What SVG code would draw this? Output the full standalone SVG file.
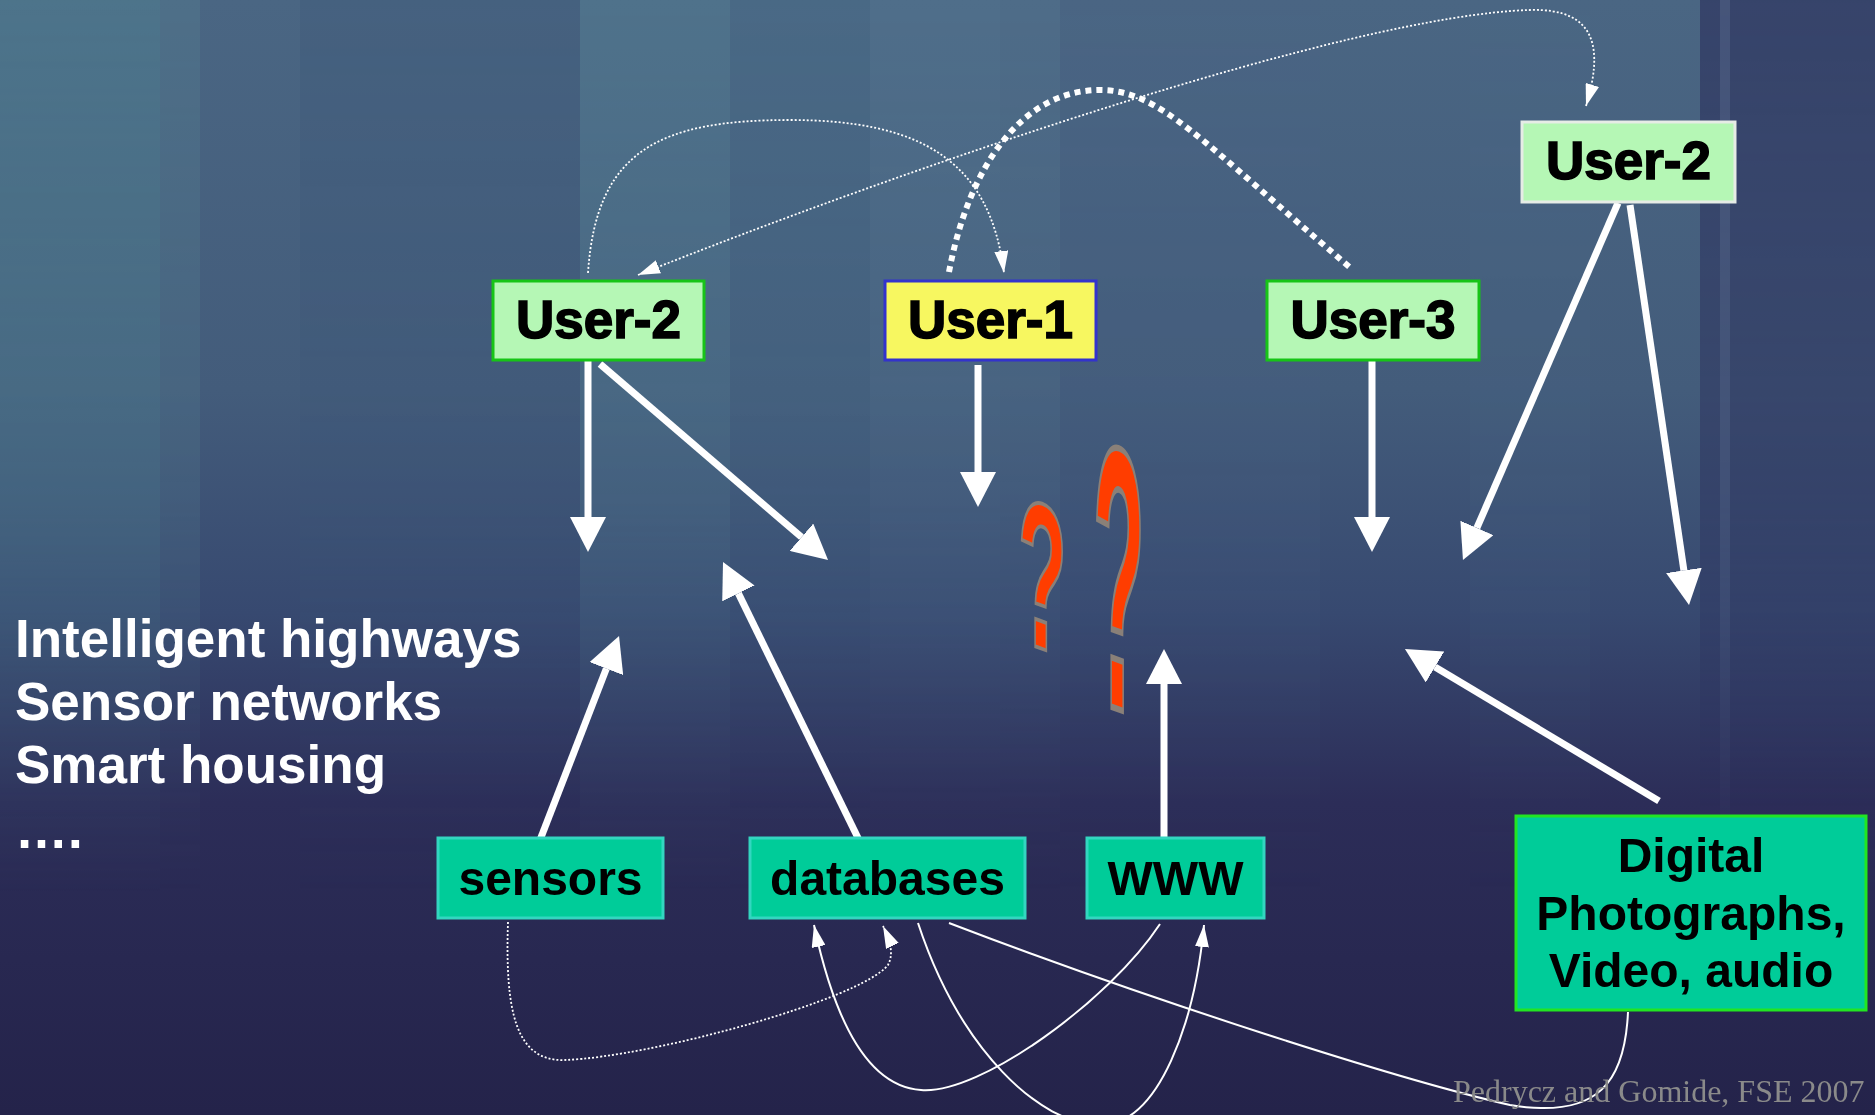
<svg xmlns="http://www.w3.org/2000/svg" width="1875" height="1115" viewBox="0 0 1875 1115">
<defs>
<linearGradient id="bgv" x1="0" y1="0" x2="0" y2="1">
<stop offset="0" stop-color="#4a6683"/>
<stop offset="0.35" stop-color="#435c7b"/>
<stop offset="0.55" stop-color="#374970"/>
<stop offset="0.72" stop-color="#2c2d58"/>
<stop offset="1" stop-color="#24234a"/>
</linearGradient>
<linearGradient id="fade" x1="0" y1="0" x2="0" y2="1">
<stop offset="0" stop-color="#fff" stop-opacity="1"/>
<stop offset="0.45" stop-color="#fff" stop-opacity="0.7"/>
<stop offset="0.8" stop-color="#fff" stop-opacity="0"/>
</linearGradient>
<mask id="m"><rect x="0" y="0" width="1875" height="1115" fill="url(#fade)"/></mask>
<marker id="big" viewBox="0 0 35 36" refX="0" refY="18" markerWidth="35" markerHeight="36" markerUnits="userSpaceOnUse" orient="auto">
<path d="M0,0 L35,18 L0,36 z" fill="#fff"/>
</marker>
<marker id="sm" viewBox="0 0 22 14" refX="22" refY="7" markerWidth="22" markerHeight="14" markerUnits="userSpaceOnUse" orient="auto-start-reverse">
<path d="M0,0 L22,7 L0,14 z" fill="#fff"/>
</marker>
<style>
.thick{fill:none;stroke:#fff;stroke-width:7;marker-end:url(#big)}
.thin{fill:none;stroke:#fff;stroke-width:2}
.dot{fill:none;stroke:#fff;stroke-width:1.8;stroke-dasharray:2 2}
.ubox{fill:#b5f7b5;stroke:#17c417;stroke-width:3}
.ulab{font-family:"Liberation Sans",Arial,sans-serif;font-weight:bold;font-size:53px;fill:#000;stroke:#000;stroke-width:1.6;text-anchor:middle}
.gbox{fill:#00cc99;stroke:#33d6c0;stroke-width:3}
.glab{font-family:"Liberation Sans",Arial,sans-serif;font-weight:bold;font-size:48px;fill:#000;text-anchor:middle}
.side{font-family:"Liberation Sans",Arial,sans-serif;font-weight:bold;font-size:53px;fill:#fff}
.q{font-family:"Liberation Sans",Arial,sans-serif;font-weight:bold;fill:#ff3d00;stroke:#8a8078;stroke-width:1.5}
</style>
</defs>
<g id="background">
<rect x="0" y="0" width="1875" height="1115" fill="url(#bgv)"/>
<g mask="url(#m)">
<rect x="0" y="0" width="160" height="1115" fill="#4f8292" opacity="0.5"/>
<rect x="160" y="0" width="40" height="1115" fill="#5a8a98" opacity="0.25"/>
<rect x="300" y="0" width="280" height="1115" fill="#3a5676" opacity="0.3"/>
<rect x="580" y="0" width="150" height="1115" fill="#5a8a9a" opacity="0.35"/>
<rect x="730" y="0" width="140" height="1115" fill="#4a6f8a" opacity="0.3"/>
<rect x="870" y="0" width="130" height="1115" fill="#6088a0" opacity="0.25"/>
<rect x="1000" y="0" width="60" height="1115" fill="#5a8098" opacity="0.25"/>
<rect x="1060" y="0" width="260" height="1115" fill="#4a6488" opacity="0.2"/>
<rect x="1470" y="0" width="120" height="1115" fill="#4a6a88" opacity="0.2"/>
<rect x="1700" y="0" width="175" height="1115" fill="#2a2d5a" opacity="0.6"/>
<rect x="1720" y="0" width="10" height="1115" fill="#6a7fa0" opacity="0.3"/>
</g>
</g>
<g id="connectors">
<line class="thick" x1="588" y1="360" x2="588" y2="517"/>
<line class="thick" x1="600" y1="364" x2="801.5" y2="537.2"/>
<line class="thick" x1="978" y1="365" x2="978" y2="472"/>
<line class="thick" x1="1372" y1="360" x2="1372" y2="517"/>
<line class="thick" x1="1618" y1="203" x2="1476.9" y2="527.9"/>
<line class="thick" x1="1630" y1="205" x2="1683.9" y2="570.4"/>
<line class="thick" x1="540" y1="840" x2="606.4" y2="668.6"/>
<line class="thick" x1="859" y1="840" x2="738.4" y2="593.4"/>
<line class="thick" x1="1164" y1="840" x2="1164" y2="684"/>
<line class="thick" x1="1659" y1="801" x2="1435" y2="667"/>
<path d="M949,272 C968,170 1020,90 1100,90 C1160,90 1200,140 1353,270" fill="none" stroke="#fff" stroke-width="6" stroke-dasharray="6 5"/>
<path class="dot" d="M588,273 C596,150 660,120 790,120 C920,120 990,160 1004,273" marker-end="url(#sm)"/>
<path class="dot" d="M638,275 C900,170 1350,15 1530,10 C1598,8 1603,50 1586,106" marker-start="url(#sm)" marker-end="url(#sm)"/>
<path class="dot" d="M508,922 C505,1010 515,1062 565,1060 C650,1057 860,1000 888,965 C893,955 892,945 883,926" marker-end="url(#sm)"/>
<path class="thin" d="M1160,924 C1110,1000 980,1095 921,1090 C860,1086 830,1000 814,925" marker-end="url(#sm)"/>
<path class="thin" d="M918,923 C960,1050 1040,1125 1100,1125 C1160,1125 1195,1020 1204,925" marker-end="url(#sm)"/>
<path class="thin" d="M949,923 C1150,1000 1400,1080 1510,1105 C1600,1120 1625,1080 1628,1012"/>
</g>
<g id="node-user2-left">
<rect class="ubox" x="493" y="281" width="211" height="79"/>
<text class="ulab" x="598.5" y="338">User-2</text>
</g>
<g id="node-user1">
<rect x="885" y="281" width="211" height="79" fill="#f7f760" stroke="#3333cc" stroke-width="3"/>
<text class="ulab" x="990.5" y="338">User-1</text>
</g>
<g id="node-user3">
<rect class="ubox" x="1267" y="281" width="212" height="79"/>
<text class="ulab" x="1373" y="338">User-3</text>
</g>
<g id="node-user2-right">
<rect x="1522" y="122" width="213" height="80" fill="#b5f7b5" stroke="#e6ece6" stroke-width="3"/>
<text class="ulab" x="1628.5" y="179">User-2</text>
</g>
<g id="node-sensors">
<rect class="gbox" x="438" y="838" width="225" height="80"/>
<text class="glab" x="550.5" y="895">sensors</text>
</g>
<g id="node-databases">
<rect class="gbox" x="750" y="838" width="275" height="80"/>
<text class="glab" x="887.5" y="895">databases</text>
</g>
<g id="node-www">
<rect class="gbox" x="1087" y="838" width="177" height="80"/>
<text class="glab" x="1175.5" y="895">WWW</text>
</g>
<g id="node-digital">
<rect x="1516" y="816" width="350" height="194" fill="#00cc99" stroke="#22e622" stroke-width="3"/>
<text class="glab" x="1691" y="872">Digital</text>
<text class="glab" x="1691" y="930">Photographs,</text>
<text class="glab" x="1691" y="987">Video, audio</text>
</g>
<g id="side-text">
<text class="side" x="15" y="657">Intelligent highways</text>
<text class="side" x="15" y="720">Sensor networks</text>
<text class="side" x="15" y="783">Smart housing</text>
<text class="side" x="15" y="848">….</text>
</g>
<g id="question-marks">
<text class="q" font-size="80" transform="translate(1018,640) skewY(20) scale(1,2.6)">?</text>
<text class="q" font-size="85" transform="translate(1093,700) skewY(20) scale(1,4.4)">?</text>
</g>
<text x="1453" y="1102" font-family="'Liberation Serif','Times New Roman',serif" font-size="32" fill="#8a8a8a">Pedrycz and Gomide, FSE 2007</text>
</svg>
